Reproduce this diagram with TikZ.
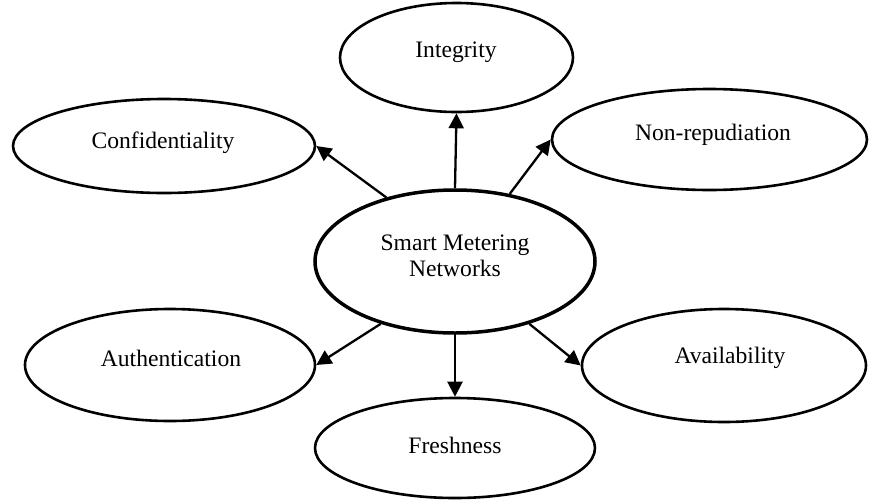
\documentclass[tikz,border=0pt]{standalone}
\usepackage{fontspec}
\setmainfont{Liberation Serif}
\usetikzlibrary{shapes.geometric,arrows.meta}
\begin{document}
\begin{tikzpicture}[x=0.5pt,y=-0.5pt,
  oval/.style={ellipse,draw,line width=1.3pt,inner sep=0pt},
  hub/.style={oval,line width=1.75pt},
  lbl/.style={font=\fontsize{11.8}{13}\selectfont,inner sep=0pt,align=center},
  link/.style={line width=1.15pt,-{Triangle[length=7.5pt,width=7.5pt]}}]
\useasboundingbox (0,0) rectangle (869,499);

% ellipses (minimum width/height in pt equal the radii in px units)
\node[hub,minimum width=140pt,minimum height=71.5pt] (smn) at (455,261.5) {};
\node[oval,minimum width=116.5pt,minimum height=54.5pt] (integ) at (456.5,57.5) {};
\node[oval,minimum width=151pt,minimum height=47pt] (conf) at (164,146) {};
\node[oval,minimum width=157.5pt,minimum height=50.5pt] (nonrep) at (709.5,139.5) {};
\node[oval,minimum width=145pt,minimum height=56pt] (auth) at (170,365) {};
\node[oval,minimum width=142pt,minimum height=56.5pt] (avail) at (724,365.5) {};
\node[oval,minimum width=140pt,minimum height=50pt] (fresh) at (455,448) {};

% labels
\node[lbl] (smn-t) at (455,256) {Smart Metering\\Networks};
\node[lbl] (integ-t) at (456,52) {Integrity};
\node[lbl] (conf-t) at (163,143) {Confidentiality};
\node[lbl] (nonrep-t) at (713,135) {Non-repudiation};
\node[lbl] (auth-t) at (171,358) {Authentication};
\node[lbl] (avail-t) at (730,358) {Availability};
\node[lbl] (fresh-t) at (455,445) {Freshness};

% connectors
\draw[link] (smn.137) -- (conf.east);
\draw[link] (smn.north) -- (integ.south);
\draw[link] (smn.51) -- (nonrep.west);
\draw[link] (smn.220.5) -- (auth.east);
\draw[link] (smn.south) -- (fresh.north);
\draw[link] (smn.320) -- (avail.west);
\end{tikzpicture}
\end{document}
